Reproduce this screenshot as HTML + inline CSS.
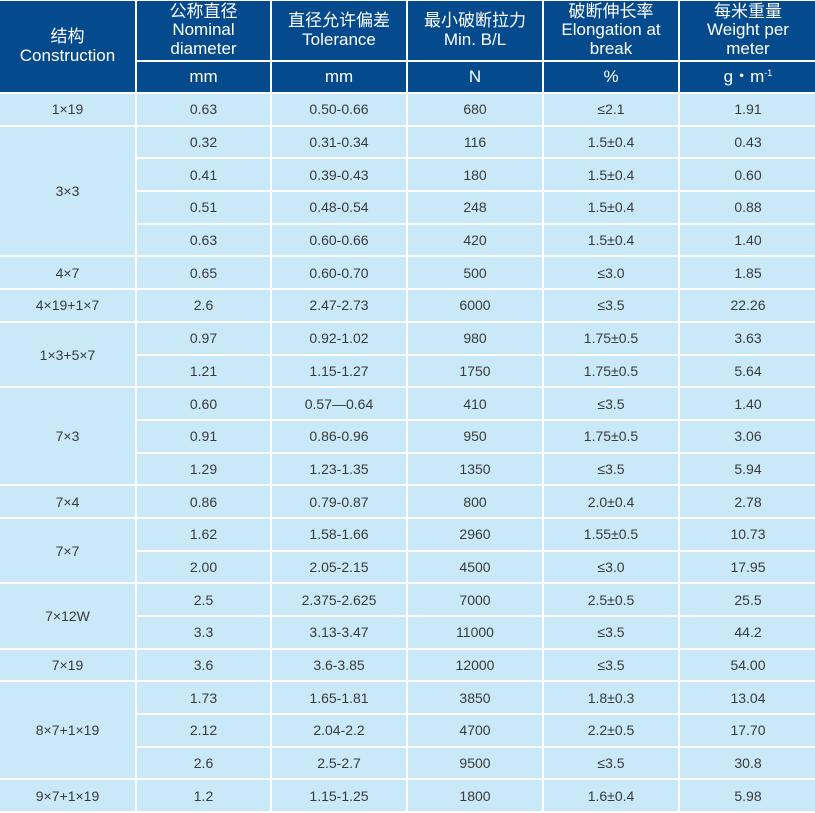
<!DOCTYPE html>
<html><head><meta charset="utf-8"><style>
html,body{margin:0;padding:0;width:815px;height:811px;overflow:hidden;background:#fff}
table{position:absolute;left:-2px;top:-1px;width:818px;border-collapse:collapse;table-layout:fixed;font-family:"Liberation Sans","Noto Sans CJK SC",sans-serif}
td{border:2px solid #fff;text-align:center;padding:0;background:#c9e9f9;color:#3a3a3a;font-size:14px;height:30.7px}
th{border:2px solid #fff;background:#054a8c;color:#fff;font-weight:normal;font-size:17px;line-height:18.5px;padding:0}
.h1{height:59px}.h2{height:30px}
sup{font-size:9px;vertical-align:6px;line-height:0}
</style></head><body>
<table>
<colgroup><col style="width:137px"><col style="width:135px"><col style="width:136px"><col style="width:136px"><col style="width:136px"><col style="width:138px"></colgroup>
<tr><th rowspan="2" class="h1">结构<br>Construction</th><th class="h1">公称直径<br>Nominal<br>diameter</th><th class="h1">直径允许偏差<br>Tolerance</th><th class="h1">最小破断拉力<br>Min. B/L</th><th class="h1">破断伸长率<br>Elongation at<br>break</th><th class="h1">每米重量<br>Weight per<br>meter</th></tr>
<tr><th class="h2">mm</th><th class="h2">mm</th><th class="h2">N</th><th class="h2">%</th><th class="h2">g・m<sup>-1</sup></th></tr>
<tr><td>1×19</td><td>0.63</td><td>0.50-0.66</td><td>680</td><td>≤2.1</td><td>1.91</td></tr>
<tr><td rowspan="4">3×3</td><td>0.32</td><td>0.31-0.34</td><td>116</td><td>1.5±0.4</td><td>0.43</td></tr>
<tr><td>0.41</td><td>0.39-0.43</td><td>180</td><td>1.5±0.4</td><td>0.60</td></tr>
<tr><td>0.51</td><td>0.48-0.54</td><td>248</td><td>1.5±0.4</td><td>0.88</td></tr>
<tr><td>0.63</td><td>0.60-0.66</td><td>420</td><td>1.5±0.4</td><td>1.40</td></tr>
<tr><td>4×7</td><td>0.65</td><td>0.60-0.70</td><td>500</td><td>≤3.0</td><td>1.85</td></tr>
<tr><td>4×19+1×7</td><td>2.6</td><td>2.47-2.73</td><td>6000</td><td>≤3.5</td><td>22.26</td></tr>
<tr><td rowspan="2">1×3+5×7</td><td>0.97</td><td>0.92-1.02</td><td>980</td><td>1.75±0.5</td><td>3.63</td></tr>
<tr><td>1.21</td><td>1.15-1.27</td><td>1750</td><td>1.75±0.5</td><td>5.64</td></tr>
<tr><td rowspan="3">7×3</td><td>0.60</td><td>0.57—0.64</td><td>410</td><td>≤3.5</td><td>1.40</td></tr>
<tr><td>0.91</td><td>0.86-0.96</td><td>950</td><td>1.75±0.5</td><td>3.06</td></tr>
<tr><td>1.29</td><td>1.23-1.35</td><td>1350</td><td>≤3.5</td><td>5.94</td></tr>
<tr><td>7×4</td><td>0.86</td><td>0.79-0.87</td><td>800</td><td>2.0±0.4</td><td>2.78</td></tr>
<tr><td rowspan="2">7×7</td><td>1.62</td><td>1.58-1.66</td><td>2960</td><td>1.55±0.5</td><td>10.73</td></tr>
<tr><td>2.00</td><td>2.05-2.15</td><td>4500</td><td>≤3.0</td><td>17.95</td></tr>
<tr><td rowspan="2">7×12W</td><td>2.5</td><td>2.375-2.625</td><td>7000</td><td>2.5±0.5</td><td>25.5</td></tr>
<tr><td>3.3</td><td>3.13-3.47</td><td>11000</td><td>≤3.5</td><td>44.2</td></tr>
<tr><td>7×19</td><td>3.6</td><td>3.6-3.85</td><td>12000</td><td>≤3.5</td><td>54.00</td></tr>
<tr><td rowspan="3">8×7+1×19</td><td>1.73</td><td>1.65-1.81</td><td>3850</td><td>1.8±0.3</td><td>13.04</td></tr>
<tr><td>2.12</td><td>2.04-2.2</td><td>4700</td><td>2.2±0.5</td><td>17.70</td></tr>
<tr><td>2.6</td><td>2.5-2.7</td><td>9500</td><td>≤3.5</td><td>30.8</td></tr>
<tr><td>9×7+1×19</td><td>1.2</td><td>1.15-1.25</td><td>1800</td><td>1.6±0.4</td><td>5.98</td></tr>
</table>
</body></html>
